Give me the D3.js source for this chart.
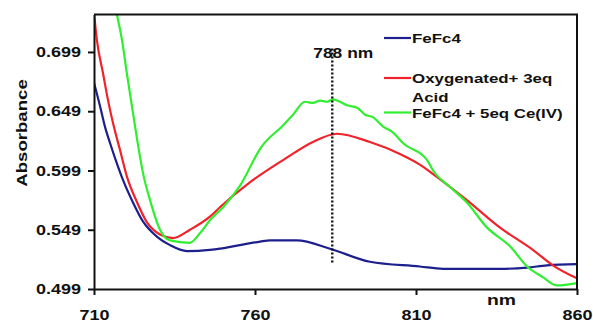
<!DOCTYPE html>
<html>
<head>
<meta charset="utf-8">
<script src="https://cdn.jsdelivr.net/npm/d3@7"></script>
<style>
  body { margin: 0; background: #fff; }
  text { font-family: "Liberation Sans", Arial, sans-serif; font-weight: bold; fill: #111; }
</style>
</head>
<body>
<svg id="chart" width="593" height="324"></svg>
<script>
// values
const xTicks = [710, 760, 810, 860];
const yTicks = [0.499, 0.549, 0.599, 0.649, 0.699];

const feFc4Nm = [710, 711.9, 713.4, 715, 717.1, 719, 722.1, 725.2, 729.6, 733.6, 738.9, 746, 749.1, 755.3,
    761.6, 764.7, 773, 783.3, 795.7, 811.2, 818.4, 836, 844.5, 850.7, 860];
const feFc4Abs = [0.673, 0.653, 0.636, 0.622, 0.605, 0.591, 0.572, 0.556, 0.543, 0.536, 0.531, 0.532, 0.533, 0.536,
    0.539, 0.540, 0.540, 0.533, 0.522, 0.518, 0.516, 0.516, 0.517, 0.519, 0.520];

const oxyNm = [710, 710.9, 712.8, 714.3, 715.9, 718.1, 720.2, 723.4, 726.5, 730.5, 734.5, 739.8, 746, 749.1,
    758.4, 770, 778, 785.5, 795.7, 805, 811.2, 815.3, 825.8, 836, 846.3, 852.5, 860];
const oxyAbs = [0.732, 0.709, 0.681, 0.659, 0.639, 0.616, 0.594, 0.572, 0.555, 0.545, 0.542, 0.549, 0.560, 0.568,
    0.589, 0.610, 0.623, 0.630, 0.623, 0.613, 0.604, 0.596, 0.574, 0.551, 0.532, 0.519, 0.508];

const ceNm = [710, 714, 717.1, 718.7, 720.2, 721.8, 723.4, 725.2, 727.4, 730.5, 733.6, 739.8, 742.9, 746, 750.1,
    755.3, 762, 768.7, 771.8, 775.5, 778, 780.2, 782.4, 784.2, 786.4, 788.6, 791.7, 794.2, 796.6, 799.8,
    802.9, 806, 813.4, 815.3, 820.6, 825.8, 832, 839.2, 844.5, 849.4, 853.8, 860];
const ceAbs = [0.84, 0.78, 0.731, 0.709, 0.681, 0.653, 0.625, 0.597, 0.574, 0.549, 0.540, 0.538, 0.546, 0.557, 0.568,
    0.586, 0.619, 0.637, 0.646, 0.657, 0.656, 0.658, 0.657, 0.659, 0.657, 0.654, 0.652, 0.646, 0.644, 0.636,
    0.631, 0.622, 0.608, 0.599, 0.585, 0.572, 0.551, 0.535, 0.518, 0.509, 0.502, 0.504];

const seriesNames = ["FeFc4", "Oxygenated+ 3eq", "FeFc4 + 5eq Ce(IV)"];
const seriesColors = ["#1c1f8c", "#f0222a", "#30ee30"];
const markNm = 784;
const markLabel = "788 nm";

const margin = {top: 14.5, right: 16, bottom: 35, left: 94};
const width = 593 - margin.left - margin.right;
const height = 324 - margin.top - margin.bottom;

const svg = d3.select("#chart");
const g = svg.append("g").attr("transform", `translate(${margin.left},${margin.top})`);

const x = d3.scaleLinear().domain([710, 860]).range([0, width]);
const y = d3.scaleLinear().domain([0.499, 0.7306]).range([height, 0]);

// stretch bold text a bit wider, like the picture
function widen(sel, f) {
    sel.each(function () {
        const w = this.getComputedTextLength();
        d3.select(this).attr("textLength", w * f).attr("lengthAdjust", "spacingAndGlyphs");
    });
}

g.append("clipPath").attr("id", "clip")
    .append("rect").attr("width", width).attr("height", height);

const line = d3.line()
    .curve(d3.curveMonotoneX)
    .x(d => x(d[0]))
    .y(d => y(d[1]));
const series = [
    d3.zip(feFc4Nm, feFc4Abs),
    d3.zip(oxyNm, oxyAbs),
    d3.zip(ceNm, ceAbs)
];

series.forEach((s, i) => {
    g.append("path")
        .datum(s)
        .attr("clip-path", "url(#clip)")
        .attr("fill", "none")
        .attr("stroke", seriesColors[i])
        .attr("stroke-width", 2.2)
        .attr("stroke-linejoin", "round")
        .attr("d", line);
});

// frame top and right
g.append("path")
    .attr("d", `M0,0H${width}V${height}`)
    .attr("fill", "none")
    .attr("stroke", "#111")
    .attr("stroke-width", 2);

const xAxis = g.append("g")
    .attr("transform", `translate(0,${height})`)
    .call(d3.axisBottom(x).tickValues(xTicks).tickSize(6).tickSizeOuter(0).tickPadding(15));
const yAxis = g.append("g")
    .call(d3.axisLeft(y).tickValues(yTicks).tickFormat(d3.format(".3f")).tickSize(6).tickSizeOuter(0).tickPadding(7));

[xAxis, yAxis].forEach(a => {
    a.select(".domain").attr("stroke", "#111").attr("stroke-width", 2);
    a.selectAll(".tick line").attr("stroke", "#111").attr("stroke-width", 2);
    a.selectAll(".tick text")
        .style("font-size", "14.5px")
        .style("font-family", "'Liberation Sans', Arial, sans-serif")
        .style("font-weight", "bold")
        .attr("fill", "#111")
        .call(widen, 1.24);
});

// dotted marker
g.append("line")
    .attr("x1", x(markNm)).attr("x2", x(markNm))
    .attr("y1", y(0.702)).attr("y2", y(0.521))
    .attr("stroke", "#111")
    .attr("stroke-width", 2.4)
    .attr("stroke-dasharray", "2,2");
g.append("text")
    .attr("x", x(markNm) - 19).attr("y", 43.5)
    .style("font-size", "15px")
    .text(markLabel)
    .call(widen, 1.16);

// axis titles
svg.append("text")
    .attr("transform", "translate(27,133) rotate(-90)")
    .attr("text-anchor", "middle")
    .style("font-size", "15px")
    .text("Absorbance")
    .call(widen, 1.24);
svg.append("text")
    .attr("x", 487).attr("y", 305)
    .style("font-size", "15px")
    .text("nm")
    .call(widen, 1.29);

// legend
const legendY = [38, 78, 112.5];
const legend = svg.append("g");
seriesNames.forEach((name, i) => {
    legend.append("line")
        .attr("x1", 384).attr("x2", 411)
        .attr("y1", legendY[i]).attr("y2", legendY[i])
        .attr("stroke", seriesColors[i])
        .attr("stroke-width", 2.2);
    legend.append("text")
        .attr("x", 412).attr("y", legendY[i] + 5)
        .style("font-size", "13.5px")
        .text(name)
        .call(widen, 1.25);
});
legend.append("text")
    .attr("x", 412).attr("y", 101.5)
    .style("font-size", "13.5px")
    .text("Acid")
    .call(widen, 1.25);
</script>
</body>
</html>
